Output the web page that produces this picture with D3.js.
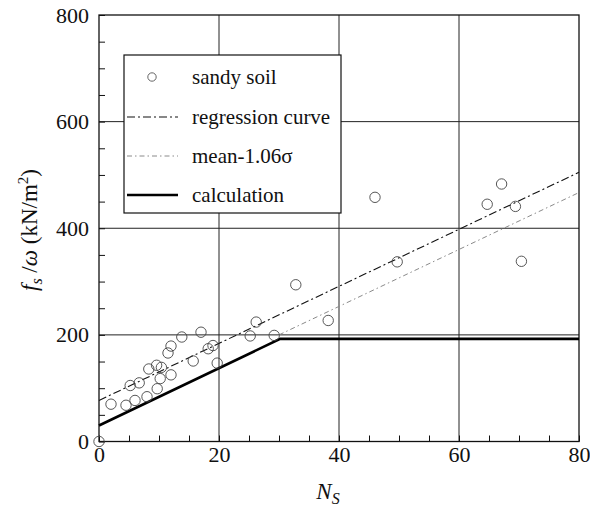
<!DOCTYPE html>
<html><head><meta charset="utf-8">
<script src="https://cdn.jsdelivr.net/npm/d3@7"></script>
<style>
body{margin:0;background:#fff;}
text{font-family:"Liberation Serif","Times New Roman",serif;fill:#111;}
</style></head>
<body><svg id="c" width="590" height="510"></svg>
<script>
// Data
const sandyN  = [0, 2, 4.5, 6, 8, 9.7, 10.2, 12, 5.2, 6.7, 8.3, 9.6, 10.4, 11.5, 12, 13.8, 17, 15.7, 18.2, 19, 19.7, 25.2, 26.2, 29.2, 32.8, 38.2, 46, 49.7, 64.7, 67.1, 69.4, 70.4];
const sandyF  = [0, 70, 68, 77, 84, 99, 118, 125, 105, 110, 136, 143, 139, 166, 179, 196, 205, 151, 174, 180, 147, 198, 224, 199, 294, 227, 458, 337, 445, 483, 441, 338];
const regressionN = [0, 80];
const regressionF = [77, 505];
const meanN = [30, 80];
const meanF = [200, 467];
const calcN = [0, 30.2, 80];
const calcF = [30, 192.5, 192.5];
const xTicks = [0, 20, 40, 60, 80];
const yTicks = [0, 200, 400, 600, 800];
const legendLabels = ["sandy soil", "regression curve", "mean-1.06\u03c3", "calculation"];

const svg = d3.select("#c");
svg.append("rect").attr("width",590).attr("height",510).attr("fill","#fff");

const x = d3.scaleLinear().domain([0,80]).range([99,579]);
const y = d3.scaleLinear().domain([0,800]).range([441.5,15]);

// grid
const g = svg.append("g");
g.selectAll(".gx").data(xTicks.slice(1,-1)).join("line")
  .attr("x1",d=>x(d)).attr("x2",d=>x(d)).attr("y1",y(0)).attr("y2",y(800))
  .attr("stroke","#222").attr("stroke-width",1);
g.selectAll(".gy").data(yTicks.slice(1,-1)).join("line")
  .attr("x1",x(0)).attr("x2",x(80)).attr("y1",d=>y(d)).attr("y2",d=>y(d))
  .attr("stroke","#222").attr("stroke-width",1);

// axes
const xa = svg.append("g").attr("transform",`translate(0,${y(0)})`)
  .call(d3.axisBottom(x).tickValues(d3.range(0,81,5)).tickSize(-6).tickSizeOuter(0).tickPadding(5)
    .tickFormat(d => xTicks.includes(d) ? d : ""));
const ya = svg.append("g").attr("transform",`translate(${x(0)},0)`)
  .call(d3.axisLeft(y).tickValues(d3.range(0,801,50)).tickSize(-6).tickSizeOuter(0).tickPadding(10)
    .tickFormat(d => yTicks.includes(d) ? d : ""));
[xa,ya].forEach(a=>{
  a.select(".domain").remove();
  a.selectAll("line").attr("stroke","#111").attr("stroke-width",1);
  a.selectAll("text").style("font-family","'Liberation Serif',serif").style("font-size","22px").attr("fill","#111");
});

// frame
svg.append("rect").attr("x",x(0)).attr("y",y(800)).attr("width",x(80)-x(0)).attr("height",y(0)-y(800))
  .attr("fill","none").attr("stroke","#111").attr("stroke-width",1.3);

// lines
const line = d3.line().x(d=>x(d[0])).y(d=>y(d[1]));
const zip = (a,b)=>a.map((v,i)=>[v,b[i]]);
svg.append("path").attr("d",line(zip(meanN,meanF))).attr("fill","none")
  .attr("stroke","#8a8a8a").attr("stroke-width",1).attr("stroke-dasharray","5,3,1.5,3");
svg.append("path").attr("d",line(zip(regressionN,regressionF))).attr("fill","none")
  .attr("stroke","#111").attr("stroke-width",1.1).attr("stroke-dasharray","8,3,2,3");
svg.append("path").attr("d",line(zip(calcN,calcF))).attr("fill","none")
  .attr("stroke","#000").attr("stroke-width",2.6);

// points
svg.selectAll(".pt").data(zip(sandyN,sandyF)).join("circle")
  .attr("cx",d=>x(d[0])).attr("cy",d=>y(d[1])).attr("r",5.2)
  .attr("fill","none").attr("stroke","#444").attr("stroke-width",0.9);

// legend
const lg = svg.append("g");
lg.append("rect").attr("x",124).attr("y",55).attr("width",217).attr("height",158)
  .attr("fill","#fff").attr("stroke","#111").attr("stroke-width",1.2);
const rowY = [77,117,156,195];
legendLabels.forEach((t,i)=>{
  lg.append("text").attr("x",192).attr("y",rowY[i]+7).style("font-size","21px").text(t);
});
lg.append("circle").attr("cx",152).attr("cy",rowY[0]).attr("r",4.2).attr("fill","none").attr("stroke","#555").attr("stroke-width",0.9);
lg.append("line").attr("x1",127).attr("x2",178).attr("y1",rowY[1]).attr("y2",rowY[1])
  .attr("stroke","#111").attr("stroke-width",1.1).attr("stroke-dasharray","8,3,2,3");
lg.append("line").attr("x1",127).attr("x2",178).attr("y1",rowY[2]).attr("y2",rowY[2])
  .attr("stroke","#8a8a8a").attr("stroke-width",1).attr("stroke-dasharray","5,3,1.5,3");
lg.append("line").attr("x1",127).attr("x2",178).attr("y1",rowY[3]).attr("y2",rowY[3])
  .attr("stroke","#000").attr("stroke-width",2.6);

// axis titles
const xt = svg.append("text").attr("x",328).attr("y",499).attr("text-anchor","middle").style("font-size","23px");
xt.append("tspan").style("font-style","italic").text("N");
xt.append("tspan").style("font-style","italic").style("font-size","16px").attr("dy",5).text("S");

const yt = svg.append("text").attr("transform","translate(37,230) rotate(-90)").attr("text-anchor","middle").style("font-size","23px");
yt.append("tspan").style("font-style","italic").text("f");
yt.append("tspan").style("font-style","italic").style("font-size","16px").attr("dy",5).text("s");
yt.append("tspan").attr("dy",-5).text(" /");
yt.append("tspan").style("font-style","italic").text("\u03c9");
yt.append("tspan").text(" (kN/m");
yt.append("tspan").style("font-size","15px").attr("dy",-9).text("2");
yt.append("tspan").attr("dy",9).text(")");
</script></body></html>
